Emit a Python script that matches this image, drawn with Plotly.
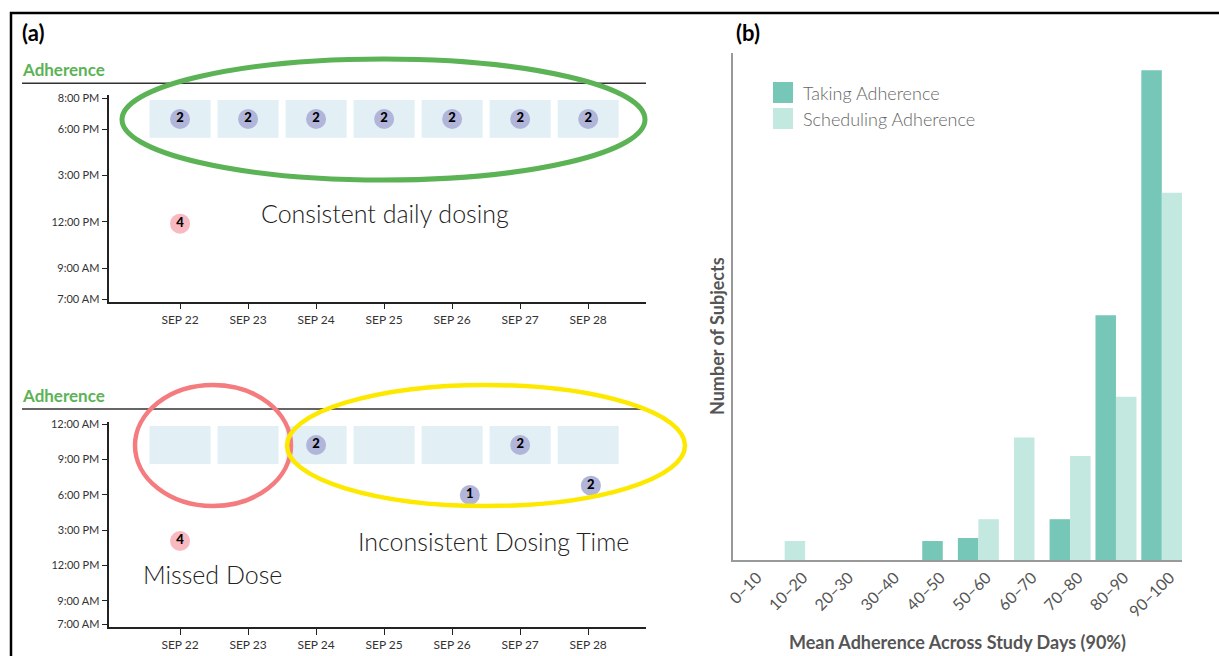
import plotly.graph_objects as go

W, H = 1219, 656

# ---------------- data ----------------
days = ["SEP 22", "SEP 23", "SEP 24", "SEP 25", "SEP 26", "SEP 27", "SEP 28"]
day_index = [0, 1, 2, 3, 4, 5, 6]

hour_ticks_top = [7, 9, 12, 15, 18, 20]
hour_labels_top = ["7:00 AM", "9:00 AM", "12:00 PM", "3:00 PM", "6:00 PM", "8:00 PM"]
hour_ticks_bot = [7, 9, 12, 15, 18, 21, 24]
hour_labels_bot = ["7:00 AM", "9:00 AM", "12:00 PM", "3:00 PM", "6:00 PM", "9:00 PM", "12:00 AM"]

# top panel: consistent daily dosing
window_start_top = [17.45, 17.45, 17.45, 17.45, 17.45, 17.45, 17.45]
window_end_top = [19.89, 19.89, 19.89, 19.89, 19.89, 19.89, 19.89]
dose_day_top = [0, 1, 2, 3, 4, 5, 6]
dose_hour_top = [18.66, 18.66, 18.66, 18.66, 18.66, 18.66, 18.66]
dose_count_top = [2, 2, 2, 2, 2, 2, 2]
reminder_day_top = [0]
reminder_hour_top = [11.88]
reminder_count_top = [4]

# bottom panel: missed dose / inconsistent time
window_start_bot = [20.62, 20.62, 20.62, 20.62, 20.62, 20.62, 20.62]
window_end_bot = [23.86, 23.86, 23.86, 23.86, 23.86, 23.86, 23.86]
dose_day_bot = [2, 5, 4.26, 6.04]
dose_hour_bot = [22.24, 22.24, 17.99, 18.78]
dose_count_bot = [2, 2, 1, 2]
reminder_day_bot = [0]
reminder_hour_bot = [14.08]
reminder_count_bot = [4]

# panel (b): histogram
bins = ["0–10", "10–20", "20–30", "30–40", "40–50", "50–60", "60–70", "70–80", "80–90", "90–100"]
taking = [0, 0, 0, 0, 0.93, 1.08, 0, 2.0, 12.0, 24.0]
scheduling = [0, 0.93, 0, 0, 0, 2.0, 6.0, 5.1, 8.0, 18.0]

# ---------------- styles ----------------
FONT = "Lato"
BOX = "#e2eff5"
PURPLE = "#b1b5d9"
PINK = "#f8b9c0"
TEAL = "#76c7b7"
TEAL_L = "#c3e8df"
GREEN = "#5cb356"


def px(x):
    return x / W


def py(y):
    return 1 - y / H


fig = go.Figure()


def add_panel(xa, ya, ws, we, dd, dh, dc, rd, rh, rc):
    fig.add_trace(go.Bar(
        x=day_index, y=[e - s for s, e in zip(ws, we)], base=ws,
        width=0.897, marker=dict(color=BOX, line=dict(width=0)),
        xaxis=xa, yaxis=ya, showlegend=False, hoverinfo="skip"))
    fig.add_trace(go.Scatter(
        x=dd, y=dh, mode="markers+text", text=[str(c) for c in dc],
        textposition="middle center",
        textfont=dict(family=FONT, size=13, color="black", weight=900),
        marker=dict(size=20, color=PURPLE, line=dict(width=0)),
        xaxis=xa, yaxis=ya, showlegend=False, cliponaxis=False))
    fig.add_trace(go.Scatter(
        x=rd, y=rh, mode="markers+text", text=[str(c) for c in rc],
        textposition="middle center",
        textfont=dict(family=FONT, size=13, color="black", weight=900),
        marker=dict(size=20, color=PINK, line=dict(width=0)),
        xaxis=xa, yaxis=ya, showlegend=False, cliponaxis=False))


add_panel("x", "y", window_start_top, window_end_top, dose_day_top, dose_hour_top,
          dose_count_top, reminder_day_top, reminder_hour_top, reminder_count_top)
add_panel("x2", "y2", window_start_bot, window_end_bot, dose_day_bot, dose_hour_bot,
          dose_count_bot, reminder_day_bot, reminder_hour_bot, reminder_count_bot)

# bar chart offsets: single bars centred on category, pairs side by side
bw = 0.447
off_t, off_s = [], []
for t, s in zip(taking, scheduling):
    if t > 0 and s > 0:
        off_t.append(-bw)
        off_s.append(0)
    else:
        off_t.append(-bw / 2)
        off_s.append(-bw / 2)

fig.add_trace(go.Bar(x=bins, y=taking, width=bw, offset=off_t, name="Taking Adherence",
                     marker=dict(color=TEAL, line=dict(width=0)),
                     xaxis="x3", yaxis="y3", showlegend=False))
fig.add_trace(go.Bar(x=bins, y=scheduling, width=bw, offset=off_s, name="Scheduling Adherence",
                     marker=dict(color=TEAL_L, line=dict(width=0)),
                     xaxis="x3", yaxis="y3", showlegend=False))

left_dom = [px(109.3), px(646)]
tickfont_l = dict(family=FONT, size=11, color="#333")
tickfont_x = dict(family=FONT, size=12, color="#333")

xcommon = dict(domain=left_dom, range=[-1.04, 6.85], tickvals=day_index, ticktext=days,
               showline=True, linecolor="#222", linewidth=1.5, ticks="outside", ticklen=6,
               tickwidth=1.2, tickcolor="#222", tickfont=tickfont_x, showgrid=False,
               zeroline=False, fixedrange=True, automargin=False)
ycommon = dict(showline=True, linecolor="#222", linewidth=1.5, ticks="outside", ticklen=6,
               tickwidth=1.2, tickcolor="#222", tickfont=tickfont_l, showgrid=False,
               zeroline=False, fixedrange=True, automargin=False)

fig.update_layout(
    width=W, height=H, margin=dict(l=0, r=0, t=0, b=0, pad=0), autosize=False,
    paper_bgcolor="white", plot_bgcolor="white", barmode="overlay",
    font=dict(family=FONT),
    xaxis=dict(**xcommon, anchor="y"),
    yaxis=dict(**ycommon, anchor="x", domain=[py(301.7), py(95)], range=[6.83, 20.21],
               tickvals=hour_ticks_top, ticktext=hour_labels_top),
    xaxis2=dict(**xcommon, anchor="y2"),
    yaxis2=dict(**ycommon, anchor="x2", domain=[py(627.3), py(421.7)], range=[6.74, 24.22],
                tickvals=hour_ticks_bot, ticktext=hour_labels_bot),
    xaxis3=dict(domain=[px(733), px(1182)], anchor="y3", type="category",
                categoryorder="array", categoryarray=bins, range=[-0.35, 9.44],
                showline=True, linecolor="#999", linewidth=2, ticks="", tickangle=-45,
                ticklabelshift=8, automargin=False,
                tickfont=dict(family=FONT, size=16, color="#555"),
                showgrid=False, zeroline=False, fixedrange=True,
                title=dict(text="Mean Adherence Across Study Days (90%)", standoff=17,
                           font=dict(family=FONT, size=18, color="#555", weight="bold"))),
    yaxis3=dict(domain=[py(560), py(53)], anchor="x3", range=[0, 24.85],
                showline=True, linecolor="#999", linewidth=2, ticks="", automargin=False,
                showticklabels=False, showgrid=False, zeroline=False, fixedrange=True),
)

shapes = []
# outer frame
shapes.append(dict(type="rect", xref="paper", yref="paper", x0=px(11), x1=1.02,
                   y0=-0.02, y1=py(13), line=dict(color="black", width=2.5)))
# header lines
for yy in (83.3, 409):
    shapes.append(dict(type="line", xref="paper", yref="paper", x0=px(22), x1=px(646),
                       y0=py(yy), y1=py(yy), line=dict(color="#333", width=1.5)))
# ellipses
shapes.append(dict(type="circle", xref="paper", yref="paper", x0=px(122), x1=px(645),
                   y0=py(180), y1=py(59), line=dict(color=GREEN, width=5)))
shapes.append(dict(type="circle", xref="paper", yref="paper", x0=px(135), x1=px(291),
                   y0=py(506), y1=py(385), line=dict(color="#f47b7e", width=4.5)))
shapes.append(dict(type="circle", xref="paper", yref="paper", x0=px(287), x1=px(685),
                   y0=py(506), y1=py(385), line=dict(color="#fde900", width=4.5)))
# legend swatches
shapes.append(dict(type="rect", xref="paper", yref="paper", x0=px(773), x1=px(793),
                   y0=py(103), y1=py(82), fillcolor=TEAL, line=dict(width=0)))
shapes.append(dict(type="rect", xref="paper", yref="paper", x0=px(773), x1=px(793),
                   y0=py(129), y1=py(108), fillcolor=TEAL_L, line=dict(width=0)))
fig.update_layout(shapes=shapes)

ann = []


def text(x, y, s, size, color="#222", weight="normal", xanchor="left", angle=0):
    ann.append(dict(x=px(x), y=py(y), xref="paper", yref="paper", text=s, showarrow=False,
                    xanchor=xanchor, yanchor="middle", textangle=angle,
                    font=dict(family=FONT, size=size, color=color, weight=weight)))


text(20, 33, "(a)", 22, "black", "bold")
text(734, 33, "(b)", 22, "black", "bold")
text(20, 70, "Adherence", 17, GREEN, "bold")
text(20, 395, "Adherence", 17, GREEN, "bold")
text(385, 213, "Consistent daily dosing", 25, "#222", 300, "center")
text(212, 574, "Missed Dose", 25, "#222", 300, "center")
text(493, 541, "Inconsistent Dosing Time", 25, "#222", 300, "center")
text(801, 93, "Taking Adherence", 18, "#666", 300)
text(801, 119, "Scheduling Adherence", 18, "#666", 300)
text(717, 336, "Number of Subjects", 18, "#555", "bold", "center", -90)
fig.update_layout(annotations=ann)

fig.write_html("out.html", config={"displayModeBar": False},
               post_script="document.body.style.margin='0';document.documentElement.style.overflow='hidden';")
